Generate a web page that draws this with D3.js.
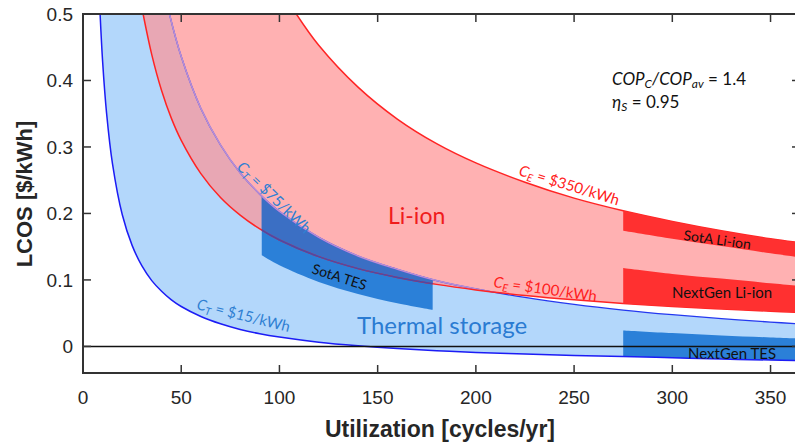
<!DOCTYPE html>
<html>
<head>
<meta charset="utf-8">
<script src="https://cdn.jsdelivr.net/npm/d3@7"></script>
<style>
  body { margin: 0; background: #fff; }
  svg { display: block; }
  .tick-label { font-family: "Liberation Sans", Arial, sans-serif; font-size: 19px; fill: #262626; }
  .axis-title { font-family: "Liberation Sans", Arial, sans-serif; font-size: 22px; font-weight: bold; fill: #262626; }
  .lbl { font-family: Lato, "Open Sans", sans-serif; }
</style>
</head>
<body>
<script>
const width = 795;
const height = 444;

// x ticks / y ticks
const xTicks = [0, 50, 100, 150, 200, 250, 300, 350];
const yTicks = [0, 0.1, 0.2, 0.3, 0.4, 0.5];

// thermal storage, C_T = $15/kWh (lower edge)
const tesLowX = [8.7, 10, 12, 15, 20, 25, 30, 35, 40, 45, 50, 60, 70, 80, 90, 100, 120, 140, 160, 180, 200, 225, 250, 275, 300, 325, 350, 365];
const tesLowY = [0.500, 0.428, 0.351, 0.275, 0.198, 0.152, 0.121, 0.099, 0.083, 0.070, 0.060, 0.045, 0.034, 0.0255, 0.019, 0.014, 0.0063, 0.0009, -0.0033, -0.0064, -0.009, -0.0115, -0.0135, -0.015, -0.017, -0.019, -0.0205, -0.0215];

// thermal storage, C_T = $75/kWh (upper edge)
const tesHighX = [44, 50, 60, 70, 80, 90, 100, 120, 140, 160, 180, 200, 225, 250, 275, 300, 325, 350, 365];
const tesHighY = [0.500, 0.436, 0.358, 0.303, 0.261, 0.229, 0.203, 0.164, 0.136, 0.116, 0.099, 0.0865, 0.0736, 0.0632, 0.0547, 0.0477, 0.0417, 0.0366, 0.0338];

// Li-ion, C_E = $100/kWh (lower edge)
const liLowX = [30.6, 35, 40, 45, 50, 60, 70, 80, 90, 100, 120, 140, 160, 180, 200, 225, 250, 275, 300, 325, 350, 365];
const liLowY = [0.500, 0.439, 0.385, 0.343, 0.310, 0.260, 0.224, 0.1975, 0.1767, 0.160, 0.135, 0.117, 0.1038, 0.0933, 0.085, 0.0767, 0.070, 0.0645, 0.060, 0.0562, 0.0529, 0.0511];

// Li-ion, C_E = $350/kWh (upper edge)
const liHighX = [108.6, 120, 140, 160, 180, 200, 225, 250, 275, 300, 325, 350, 365];
const liHighY = [0.500, 0.453, 0.390, 0.342, 0.305, 0.276, 0.247, 0.223, 0.204, 0.188, 0.174, 0.162, 0.156];

// highlighted bands
const sotaTesX = [91, 100, 120, 140, 160, 178];
const sotaTesTop = [0.226, 0.203, 0.164, 0.136, 0.116, 0.101];
const sotaTesBot = [0.137, 0.122, 0.097, 0.079, 0.065, 0.055];

const bandX = [275, 300, 325, 350, 365];
const nextTesTop = [0.024, 0.020, 0.0165, 0.0135, 0.012];
const nextTesBot = [-0.015, -0.017, -0.019, -0.0205, -0.0215];
const sotaLiTop = [0.204, 0.188, 0.174, 0.162, 0.156];
const sotaLiBot = [0.174, 0.162, 0.151, 0.140, 0.134];
const nextLiTop = [0.118, 0.109, 0.102, 0.095, 0.091];
const nextLiBot = [0.0645, 0.060, 0.0562, 0.0529, 0.0511];

const x = d3.scaleLinear().domain([0, 365]).range([83, 800]);
const y = d3.scaleLinear().domain([-0.04, 0.5]).range([373, 14]);

const svg = d3.select('body').append('svg')
  .attr('width', width)
  .attr('height', height);

const zip = (xs, ys) => xs.map((v, i) => [v, ys[i]]);

const line = d3.line()
  .x(d => x(d[0]))
  .y(d => y(d[1]))
  .curve(d3.curveCatmullRom);

// closed region between a lower and an upper curve (top capped at 0.5)
function region(lo, hi) {
  return line(lo) + 'L' + line(hi.slice().reverse()).slice(1) + 'Z';
}

const bandArea = d3.area()
  .x(d => x(d[0]))
  .y0(d => y(d[1]))
  .y1(d => y(d[2]))
  .curve(d3.curveCatmullRom);
const zip3 = (xs, lo, hi) => xs.map((v, i) => [v, lo[i], hi[i]]);

const tesLow = zip(tesLowX, tesLowY);
const tesHigh = zip(tesHighX, tesHighY);
const liLow = zip(liLowX, liLowY);
const liHigh = zip(liHighX, liHighY);

const tesPath = region(tesLow, tesHigh);
const liPath = region(liLow, liHigh);
const sotaTesPath = bandArea(zip3(sotaTesX, sotaTesBot, sotaTesTop));
const nextTesPath = bandArea(zip3(bandX, nextTesBot, nextTesTop));

const defs = svg.append('defs');
defs.append('clipPath').attr('id', 'plot')
  .append('rect').attr('x', 83).attr('y', 14).attr('width', 717).attr('height', 359);
defs.append('clipPath').attr('id', 'tes-clip').append('path').attr('d', tesPath);
defs.append('clipPath').attr('id', 'li-clip').append('path').attr('d', liPath);
defs.append('clipPath').attr('id', 'sotates-clip').append('path').attr('d', sotaTesPath);
defs.append('clipPath').attr('id', 'nexttes-clip').append('path').attr('d', nextTesPath);

const g = svg.append('g').attr('clip-path', 'url(#plot)');

// regions
g.append('path').attr('d', tesPath).attr('fill', '#b3d7fb');
g.append('path').attr('d', liPath).attr('fill', '#ffb1b2');
g.append('g').attr('clip-path', 'url(#tes-clip)')
  .append('path').attr('d', liPath).attr('fill', '#e8a7b4');

// thermal bands
g.append('path').attr('d', sotaTesPath).attr('fill', '#2b80d8');
g.append('g').attr('clip-path', 'url(#li-clip)')
  .append('path').attr('d', sotaTesPath).attr('fill', '#3b6fc4');
g.append('path').attr('d', nextTesPath).attr('fill', '#2b80d8');

// boundary lines
g.append('path').attr('d', line(tesLow)).attr('fill', 'none')
  .attr('stroke', '#1c1cf5').attr('stroke-width', 1.5);
g.append('path').attr('d', line(tesHigh)).attr('fill', 'none')
  .attr('stroke', '#2438f0').attr('stroke-width', 1.3);
g.append('g').attr('clip-path', 'url(#li-clip)')
  .append('path').attr('d', line(tesHigh)).attr('fill', 'none')
  .attr('stroke', '#b98ed4').attr('stroke-width', 1.5);
g.append('path').attr('d', line(liLow)).attr('fill', 'none')
  .attr('stroke', '#ff2424').attr('stroke-width', 1.5);
g.append('g').attr('clip-path', 'url(#sotates-clip)')
  .append('path').attr('d', line(liLow)).attr('fill', 'none')
  .attr('stroke', '#4a4aa8').attr('stroke-width', 1.5);
g.append('path').attr('d', line(liHigh)).attr('fill', 'none')
  .attr('stroke', '#ff2424').attr('stroke-width', 1.5);

// Li-ion bands
g.append('path').attr('d', bandArea(zip3(bandX, sotaLiBot, sotaLiTop))).attr('fill', '#ff3030');
g.append('path').attr('d', bandArea(zip3(bandX, nextLiBot, nextLiTop))).attr('fill', '#ff3030');

// zero line
g.append('line')
  .attr('x1', x(0)).attr('x2', x(365))
  .attr('y1', y(0)).attr('y2', y(0))
  .attr('stroke', '#111').attr('stroke-width', 1.5);

// axes box and ticks
const axisColor = '#333';
svg.append('rect')
  .attr('x', 83).attr('y', 14).attr('width', 717).attr('height', 359)
  .attr('fill', 'none').attr('stroke', axisColor).attr('stroke-width', 2);

xTicks.forEach(t => {
  svg.append('line').attr('x1', x(t)).attr('x2', x(t)).attr('y1', 373).attr('y2', 365)
    .attr('stroke', axisColor).attr('stroke-width', 1.5);
  svg.append('line').attr('x1', x(t)).attr('x2', x(t)).attr('y1', 14).attr('y2', 22)
    .attr('stroke', axisColor).attr('stroke-width', 1.5);
  svg.append('text').attr('class', 'tick-label')
    .attr('x', x(t)).attr('y', 404).attr('text-anchor', 'middle')
    .text(t);
});

yTicks.forEach(t => {
  svg.append('line').attr('x1', 83).attr('x2', 91).attr('y1', y(t)).attr('y2', y(t))
    .attr('stroke', axisColor).attr('stroke-width', 1.5);
  svg.append('line').attr('x1', 792).attr('x2', 800).attr('y1', y(t)).attr('y2', y(t))
    .attr('stroke', axisColor).attr('stroke-width', 1.5);
  svg.append('text').attr('class', 'tick-label')
    .attr('x', 73).attr('y', y(t) + 7).attr('text-anchor', 'end')
    .text(t === 0 ? '0' : t.toFixed(1));
});

svg.append('text').attr('class', 'axis-title')
  .attr('x', 440).attr('y', 437).attr('text-anchor', 'middle')
  .attr('font-size', 23)
  .style('font-size', '23px')
  .text('Utilization [cycles/yr]');

svg.append('text').attr('class', 'axis-title')
  .attr('transform', 'translate(32,194) rotate(-90)')
  .attr('text-anchor', 'middle')
  .text('LCOS [$/kWh]');

// labels
function subLabel(px, py, angle, size, color, main, sub, rest) {
  const t = svg.append('text').attr('class', 'lbl')
    .attr('transform', `translate(${px},${py}) rotate(${angle})`)
    .attr('font-size', size).attr('fill', color);
  t.append('tspan').attr('font-style', 'italic').text(main);
  t.append('tspan').attr('font-style', 'italic').attr('font-size', size * 0.7).attr('dy', 3).text(sub);
  t.append('tspan').attr('dy', -3).text(rest);
  return t;
}

subLabel(236, 168, 44, 15, '#2f7fd2', 'C', 'T', ' = $75/kWh');
subLabel(196, 309, 14, 15, '#2f7fd2', 'C', 'T', ' = $15/kWh');
subLabel(518, 175, 17, 15, '#ff2020', 'C', 'E', ' = $350/kWh');
subLabel(493, 287, 8, 15, '#ff2020', 'C', 'E', ' = $100/kWh');

svg.append('text').attr('class', 'lbl')
  .attr('x', 388).attr('y', 224).attr('font-size', 23).attr('fill', '#f01c1c')
  .text('Li-ion');
svg.append('text').attr('class', 'lbl')
  .attr('x', 357).attr('y', 334).attr('font-size', 24).attr('fill', '#2a7bd2')
  .text('Thermal storage');

svg.append('text').attr('class', 'lbl')
  .attr('transform', 'translate(311,273) rotate(18)')
  .attr('font-size', 14).attr('fill', '#111')
  .text('SotA TES');
svg.append('text').attr('class', 'lbl')
  .attr('transform', 'translate(683,240) rotate(8)')
  .attr('font-size', 14).attr('fill', '#111')
  .text('SotA Li-ion');
svg.append('text').attr('class', 'lbl')
  .attr('x', 672).attr('y', 298).attr('font-size', 15).attr('fill', '#111')
  .text('NextGen Li-ion');
svg.append('g').attr('clip-path', 'url(#nexttes-clip)')
  .append('text').attr('class', 'lbl')
  .attr('x', 688).attr('y', 359).attr('font-size', 15).attr('fill', '#111')
  .text('NextGen TES');

// parameter note
const note = svg.append('text').attr('class', 'lbl')
  .attr('x', 612).attr('y', 85).attr('font-size', 17).attr('fill', '#111');
note.append('tspan').attr('font-style', 'italic').text('COP');
note.append('tspan').attr('font-style', 'italic').attr('font-size', 12).attr('dy', 3).text('C');
note.append('tspan').attr('font-style', 'italic').attr('dy', -3).text('/COP');
note.append('tspan').attr('font-style', 'italic').attr('font-size', 12).attr('dy', 3).text('av');
note.append('tspan').attr('dy', -3).text(' = 1.4');

const note2 = svg.append('text').attr('class', 'lbl')
  .attr('x', 612).attr('y', 108).attr('font-size', 17).attr('fill', '#111');
note2.append('tspan').attr('font-style', 'italic').text('\u03B7');
note2.append('tspan').attr('font-style', 'italic').attr('font-size', 12).attr('dy', 3).text('S');
note2.append('tspan').attr('dy', -3).text(' = 0.95');
</script>
</body>
</html>
